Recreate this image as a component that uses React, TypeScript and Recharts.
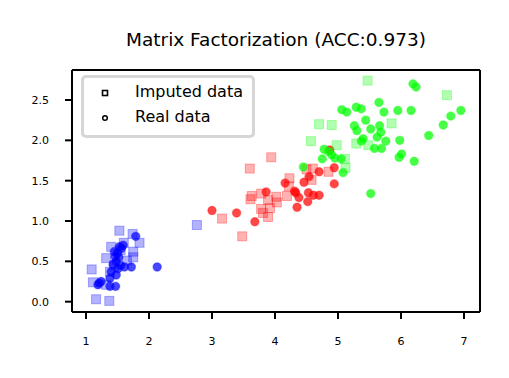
import React from "react";
import { ScatterChart, Scatter, XAxis, YAxis, ReferenceLine } from "recharts";

const TITLE = "Matrix Factorization (ACC:0.973)";
const X_TICKS = [1, 2, 3, 4, 5, 6, 7];
const Y_TICKS = [0, 0.5, 1, 1.5, 2, 2.5];
const X_DOMAIN: [number, number] = [0.778, 7.254];
const Y_DOMAIN: [number, number] = [-0.128, 2.872];

const blueImputed = [
  [1.53, 0.88], [1.74, 0.84], [1.85, 0.73], [1.6, 0.73], [1.4, 0.68], [1.75, 0.62],
  [1.75, 0.55], [1.32, 0.54], [1.09, 0.4], [1.38, 0.37], [1.11, 0.24], [1.32, 0.21],
  [1.16, 0.03], [1.37, 0.01], [1.65, 0.51], [1.55, 0.64], [1.45, 0.45], [2.76, 0.95],
];
const blueReal = [
  [1.79, 0.81], [2.13, 0.43], [1.59, 0.7], [1.53, 0.68], [1.56, 0.66], [1.46, 0.56],
  [1.48, 0.5], [1.43, 0.46], [1.61, 0.43], [1.72, 0.43], [1.51, 0.41], [1.4, 0.37],
  [1.38, 0.29], [1.24, 0.25], [1.19, 0.21], [1.21, 0.23], [1.38, 0.19], [1.47, 0.19],
  [1.5, 0.6], [1.45, 0.62], [1.55, 0.45], [1.48, 0.33], [1.52, 0.55],
];
const redImputed = [
  [3.94, 1.79], [3.6, 1.65], [3.16, 1.03], [3.48, 0.81], [3.63, 1.31], [3.61, 1.27],
  [3.78, 1.34], [3.89, 1.26], [4.02, 1.3], [4.03, 1.23], [3.78, 1.15], [3.92, 1.16],
  [3.81, 1.1], [3.89, 1.05], [4.19, 1.31], [4.22, 1.43], [4.23, 1.53], [4.5, 1.64],
  [4.58, 1.51], [4.85, 1.61], [4.6, 1.65],
];
const redReal = [
  [3.0, 1.13], [3.39, 1.1], [3.68, 0.99], [3.86, 1.36], [4.16, 1.47], [4.33, 1.35],
  [4.38, 1.29], [4.31, 1.37], [4.53, 1.35], [4.61, 1.32], [4.7, 1.32], [4.52, 1.24],
  [4.35, 1.17], [4.46, 1.48], [4.54, 1.55], [4.7, 1.61], [4.94, 1.66], [4.94, 1.46],
  [4.87, 1.88],
];
const greenImputed = [
  [5.47, 2.74], [6.73, 2.56], [4.7, 2.2], [4.9, 2.19], [5.85, 2.21], [4.57, 1.99],
  [4.98, 1.94], [5.29, 1.96], [5.48, 1.94], [5.11, 1.77], [5.12, 1.66],
];
const greenReal = [
  [6.19, 2.7], [6.24, 2.66], [6.95, 2.37], [6.79, 2.3], [6.67, 2.19], [6.44, 2.06],
  [5.65, 2.47], [5.29, 2.41], [5.37, 2.39], [5.06, 2.38], [5.14, 2.35], [5.73, 2.35],
  [5.95, 2.37], [6.16, 2.37], [5.44, 2.25], [5.26, 2.18], [5.3, 2.12], [5.52, 2.14],
  [5.66, 2.18], [5.68, 2.1], [5.62, 2.04], [5.76, 1.99], [5.4, 2.02], [5.37, 1.99],
  [5.98, 2.0], [5.58, 1.9], [5.69, 1.9], [6.01, 1.83], [5.97, 1.79], [6.21, 1.74],
  [4.78, 1.89], [4.85, 1.86], [4.9, 1.82], [4.95, 1.78], [5.05, 1.77], [4.75, 1.77],
  [5.08, 1.6], [4.45, 1.67], [5.52, 1.34],
];

const toPts = (a: number[][]) => a.map(([x, y]) => ({ x, y }));

const squareShape = (color: string) => (p: any) => (
  <rect
    x={p.cx - 4.5}
    y={p.cy - 4.5}
    width={9}
    height={9}
    fill={color}
    fillOpacity={0.3}
    stroke={color}
    strokeOpacity={0.3}
    strokeWidth={1}
  />
);
const circleShape = (color: string) => (p: any) => (
  <circle cx={p.cx} cy={p.cy} r={4.2} fill={color} fillOpacity={0.72} stroke={color} strokeOpacity={0.35} strokeWidth={1.2} />
);

const FONT = "'DejaVu Sans', sans-serif";
const tickStyle = { fontSize: 11, fill: "#000", fontFamily: FONT };
const axisLine = { stroke: "#000", strokeWidth: 2 };

export default function App() {
  return (
    <div style={{ position: "absolute", left: 0, top: 0, width: 509, height: 378, background: "#fff", fontFamily: FONT }}>
      <ScatterChart width={509} height={378} margin={{ top: 70, right: 29, left: 0, bottom: 0 }}>
        <XAxis
          type="number"
          dataKey="x"
          domain={X_DOMAIN}
          ticks={X_TICKS}
          allowDataOverflow
          height={66}
          tick={tickStyle}
          tickSize={7}
          tickMargin={18}
          tickLine={axisLine}
          axisLine={axisLine}
        />
        <YAxis
          type="number"
          dataKey="y"
          domain={Y_DOMAIN}
          ticks={Y_TICKS}
          allowDataOverflow
          width={72}
          tick={tickStyle}
          tickFormatter={(v: number) => v.toFixed(1)}
          tickSize={7}
          tickMargin={16}
          tickLine={axisLine}
          axisLine={axisLine}
        />
        <Scatter data={toPts(blueImputed)} shape={squareShape("#0000ff")} isAnimationActive={false} />
        <Scatter data={toPts(blueReal)} shape={circleShape("#0000ff")} isAnimationActive={false} />
        <Scatter data={toPts(redImputed)} shape={squareShape("#ff0000")} isAnimationActive={false} />
        <Scatter data={toPts(redReal)} shape={circleShape("#ff0000")} isAnimationActive={false} />
        <Scatter data={toPts(greenImputed)} shape={squareShape("#00ff00")} isAnimationActive={false} />
        <Scatter data={toPts(greenReal)} shape={circleShape("#00ff00")} isAnimationActive={false} />
        <ReferenceLine y={Y_DOMAIN[1]} stroke="#000" strokeWidth={2} ifOverflow="extendDomain" />
        <ReferenceLine x={X_DOMAIN[1]} stroke="#000" strokeWidth={2} ifOverflow="extendDomain" />
      </ScatterChart>
      <div
        style={{
          position: "absolute",
          left: 0,
          width: 552,
          top: 29,
          height: 22,
          lineHeight: "22px",
          textAlign: "center",
          fontSize: 18.5,
          color: "#000",
        }}
      >
        {TITLE}
      </div>
      <div
        style={{
          position: "absolute",
          left: 81,
          top: 75,
          width: 168,
          height: 57,
          border: "3px solid #d6d6d6",
          borderRadius: 5,
          background: "rgba(255,255,255,0.85)",
        }}
      >
        <svg width={10} height={10} style={{ position: "absolute", left: 16, top: 10 }}>
          <rect x={2.5} y={2.5} width={5} height={5} fill="#fff" stroke="#000" strokeWidth={1.6} />
        </svg>
        <div style={{ position: "absolute", left: 51, top: 4, fontSize: 16, lineHeight: "20px", color: "#000", whiteSpace: "nowrap" }}>
          Imputed data
        </div>
        <svg width={10} height={10} style={{ position: "absolute", left: 16, top: 35 }}>
          <circle cx={5} cy={5} r={2.3} fill="#fff" stroke="#000" strokeWidth={1.5} />
        </svg>
        <div style={{ position: "absolute", left: 51, top: 29, fontSize: 16, lineHeight: "20px", color: "#000", whiteSpace: "nowrap" }}>
          Real data
        </div>
      </div>
    </div>
  );
}
